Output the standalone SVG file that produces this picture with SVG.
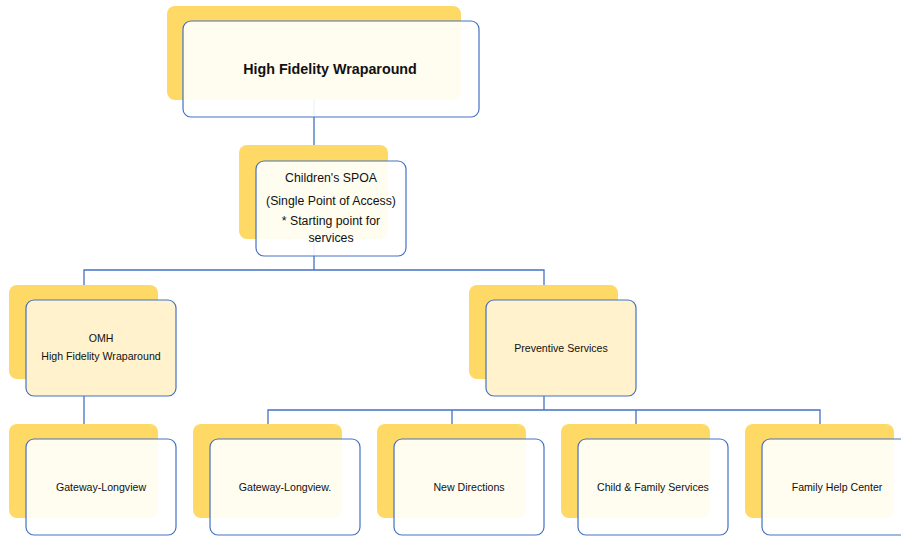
<svg xmlns="http://www.w3.org/2000/svg" width="901" height="536" viewBox="0 0 901 536">
<style>
.back{fill:#FFD966;}
.front{fill:#FFFFFF;fill-opacity:0.9;stroke:#4472C4;stroke-width:1.2;}
.front2{fill:#FFF2CC;stroke:#4472C4;stroke-width:1.2;}
.conn{fill:none;stroke:#4472C4;stroke-width:1.3;}
text{font-family:"Liberation Sans",Arial,sans-serif;fill:#111;text-anchor:middle;}
.t1{font-size:14.3px;font-weight:bold;}
.t2{font-size:12.3px;}
.t3{font-size:10.6px;}
</style>
<rect width="901" height="536" fill="#FFFFFF"/>
<g id="connectors">
<path class="conn" d="M314,100 V145"/>
<path class="conn" d="M314,239 V270 M84,285 V270 H544 V285"/>
<path class="conn" d="M84,379 V424"/>
<path class="conn" d="M544,379 V410 M268,424 V410 H820 V424 M452,410 V424 M636,410 V424"/>
</g>
<g id="n-hfw">
<rect class="back" x="167" y="6" width="294" height="94" rx="8"/>
<rect class="front" x="183" y="21" width="296" height="96" rx="8"/>
<text class="t1" x="330" y="74">High Fidelity Wraparound</text>
</g>
<g id="n-spoa">
<rect class="back" x="239" y="145" width="149" height="94" rx="8"/>
<rect class="front" x="256" y="161" width="150" height="95" rx="8"/>
<text class="t2" x="331" y="182">Children's SPOA</text>
<text class="t2" x="331" y="205">(Single Point of Access)</text>
<text class="t2" x="331" y="225">* Starting point for</text>
<text class="t2" x="331" y="242">services</text>
</g>
<g id="n-omh">
<rect class="back" x="9" y="285" width="149" height="94" rx="8"/>
<rect class="front2" x="26" y="300" width="150" height="96" rx="8"/>
<text class="t3" x="101" y="342">OMH</text>
<text class="t3" x="101" y="360">High Fidelity Wraparound</text>
</g>
<g id="n-prev">
<rect class="back" x="469" y="285" width="149" height="94" rx="8"/>
<rect class="front2" x="486" y="300" width="150" height="96" rx="8"/>
<text class="t3" x="561" y="352">Preventive Services</text>
</g>
<g id="n-gl1">
<rect class="back" x="9" y="424" width="149" height="94" rx="8"/>
<rect class="front" x="26" y="439" width="150" height="96" rx="8"/>
<text class="t3" x="101" y="491">Gateway-Longview</text>
</g>
<g id="n-gl2">
<rect class="back" x="193" y="424" width="149" height="94" rx="8"/>
<rect class="front" x="210" y="439" width="150" height="96" rx="8"/>
<text class="t3" x="285" y="491">Gateway-Longview.</text>
</g>
<g id="n-nd">
<rect class="back" x="377" y="424" width="149" height="94" rx="8"/>
<rect class="front" x="394" y="439" width="150" height="96" rx="8"/>
<text class="t3" x="469" y="491">New Directions</text>
</g>
<g id="n-cfs">
<rect class="back" x="561" y="424" width="149" height="94" rx="8"/>
<rect class="front" x="578" y="439" width="150" height="96" rx="8"/>
<text class="t3" x="653" y="491">Child &amp; Family Services</text>
</g>
<g id="n-fhc">
<rect class="back" x="745" y="424" width="149" height="94" rx="8"/>
<rect class="front" x="762" y="439" width="150" height="96" rx="8"/>
<text class="t3" x="837" y="491">Family Help Center</text>
</g>
</svg>
